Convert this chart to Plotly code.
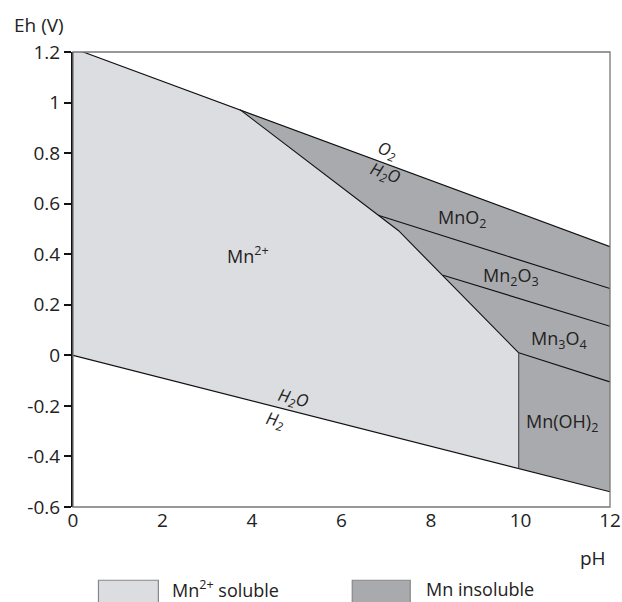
import plotly.graph_objects as go

# ---- data (pH, Eh) ----
ph_o2 = [0, 12]
eh_o2 = [1.215, 0.43]
ph_h2 = [0, 12]
eh_h2 = [0.0, -0.54]
ph_mn2 = [3.73, 7.27, 9.96]
eh_mn2 = [0.972, 0.494, 0.01]
ph_mno2 = [6.82, 12]
eh_mno2 = [0.554, 0.264]
ph_mn2o3 = [8.27, 12]
eh_mn2o3 = [0.317, 0.115]
ph_mn3o4 = [9.96, 12]
eh_mn3o4 = [0.01, -0.105]
ph_vert = [9.96, 9.96]
eh_vert = [0.01, -0.448]

y_ticks = [1.2, 1, 0.8, 0.6, 0.4, 0.2, 0, -0.2, -0.4, -0.6]
y_text = ["1.2", "1", "0.8", "0.6", "0.4", "0.2", "0", "-0.2", "-0.4", "-0.6"]
x_ticks = [0, 2, 4, 6, 8, 10, 12]

labels = [
    ("Mn<sup>2+</sup>", 3.90, 0.396),
    ("MnO<sub>2</sub>", 8.70, 0.542),
    ("Mn<sub>2</sub>O<sub>3</sub>", 9.79, 0.313),
    ("Mn<sub>3</sub>O<sub>4</sub>", 10.86, 0.063),
    ("Mn(OH)<sub>2</sub>", 10.93, -0.264),
]
water_labels = [
    ("<i>O<sub>2</sub></i>", 7.02, 0.811, 20),
    ("<i>H<sub>2</sub>O</i>", 6.98, 0.720, 20),
    ("<i>H<sub>2</sub>O</i>", 4.92, -0.170, 14),
    ("<i>H<sub>2</sub></i>", 4.52, -0.257, 14),
]

LIGHT = "#dcdde0"
DARK = "#a9aaad"
FONT = "Open Sans"

fig = go.Figure()

# light region (Mn2+ soluble)
light_x = [ph_o2[0], ph_mn2[0], ph_mn2[1], ph_mn2[2], ph_vert[1], ph_h2[0]]
light_y = [eh_o2[0], eh_mn2[0], eh_mn2[1], eh_mn2[2], eh_vert[1], eh_h2[0]]
fig.add_trace(go.Scatter(x=light_x, y=light_y, fill="toself", fillcolor=LIGHT,
                         mode="none", hoverinfo="skip", showlegend=False))
# dark region (Mn insoluble)
dark_x = [ph_mn2[0], ph_o2[1], ph_h2[1], ph_vert[1], ph_mn2[2], ph_mn2[1]]
dark_y = [eh_mn2[0], eh_o2[1], eh_h2[1], eh_vert[1], eh_mn2[2], eh_mn2[1]]
fig.add_trace(go.Scatter(x=dark_x, y=dark_y, fill="toself", fillcolor=DARK,
                         mode="none", hoverinfo="skip", showlegend=False))

for xs, ys, col in [(ph_o2, eh_o2, "#111"), (ph_h2, eh_h2, "#111"),
                    (ph_mn2, eh_mn2, "#111"), (ph_mno2, eh_mno2, "#111"),
                    (ph_mn2o3, eh_mn2o3, "#111"), (ph_mn3o4, eh_mn3o4, "#111"),
                    (ph_vert, eh_vert, "#444")]:
    fig.add_trace(go.Scatter(x=xs, y=ys, mode="lines", line=dict(color=col, width=1.1),
                             hoverinfo="skip", showlegend=False))

for t, x, y in labels:
    fig.add_annotation(x=x, y=y, text=t, showarrow=False,
                       font=dict(family=FONT, size=18, color="#222"))
for t, x, y, a in water_labels:
    fig.add_annotation(x=x, y=y, text=t, showarrow=False, textangle=a,
                       font=dict(family=FONT, size=17, color="#222"))

# frame
fig.add_shape(type="rect", xref="paper", yref="paper", x0=0, y0=0, x1=1, y1=1,
              line=dict(color="#777", width=1.3), layer="above")

# axis titles
fig.add_annotation(xref="paper", yref="paper", x=-0.113, y=1.059, text="Eh (V)",
                   showarrow=False, xanchor="left", yanchor="middle",
                   font=dict(family=FONT, size=19, color="#222"))
fig.add_annotation(xref="paper", yref="paper", x=0.969, y=-0.113, text="pH",
                   showarrow=False, xanchor="center", yanchor="middle",
                   font=dict(family=FONT, size=19, color="#222"))

# legend (manual)
for x0, x1, col, txt, tx in [(0.0474, 0.159, LIGHT, "Mn<sup>2+</sup> soluble", 0.1814),
                             (0.520, 0.628, DARK, "Mn insoluble", 0.653)]:
    fig.add_shape(type="rect", xref="paper", yref="paper", x0=x0, x1=x1, y0=-0.23, y1=-0.161,
                  fillcolor=col, line=dict(color="#888", width=1.2))
    fig.add_annotation(xref="paper", yref="paper", x=tx, y=-0.181, text=txt,
                       showarrow=False, xanchor="left", yanchor="middle",
                       font=dict(family=FONT, size=18, color="#222"))

fig.update_xaxes(range=[0, 12], tickvals=x_ticks, ticks="", showgrid=False, zeroline=False,
                 showline=False, automargin=False,
                 tickfont=dict(family=FONT, size=19, color="#222"))
fig.update_yaxes(range=[-0.6, 1.2], tickvals=y_ticks, ticktext=y_text, ticks="outside",
                 ticklen=7, tickwidth=2, tickcolor="#111", showgrid=False, zeroline=False,
                 showline=True, linecolor="#111", linewidth=2, automargin=False,
                 tickfont=dict(family=FONT, size=19, color="#222"))

fig.update_layout(width=622, height=602, margin=dict(l=72.5, r=12, t=52, b=95),
                  paper_bgcolor="white", plot_bgcolor="white",
                  font=dict(family=FONT, color="#222"))

fig.write_html("out.html")
